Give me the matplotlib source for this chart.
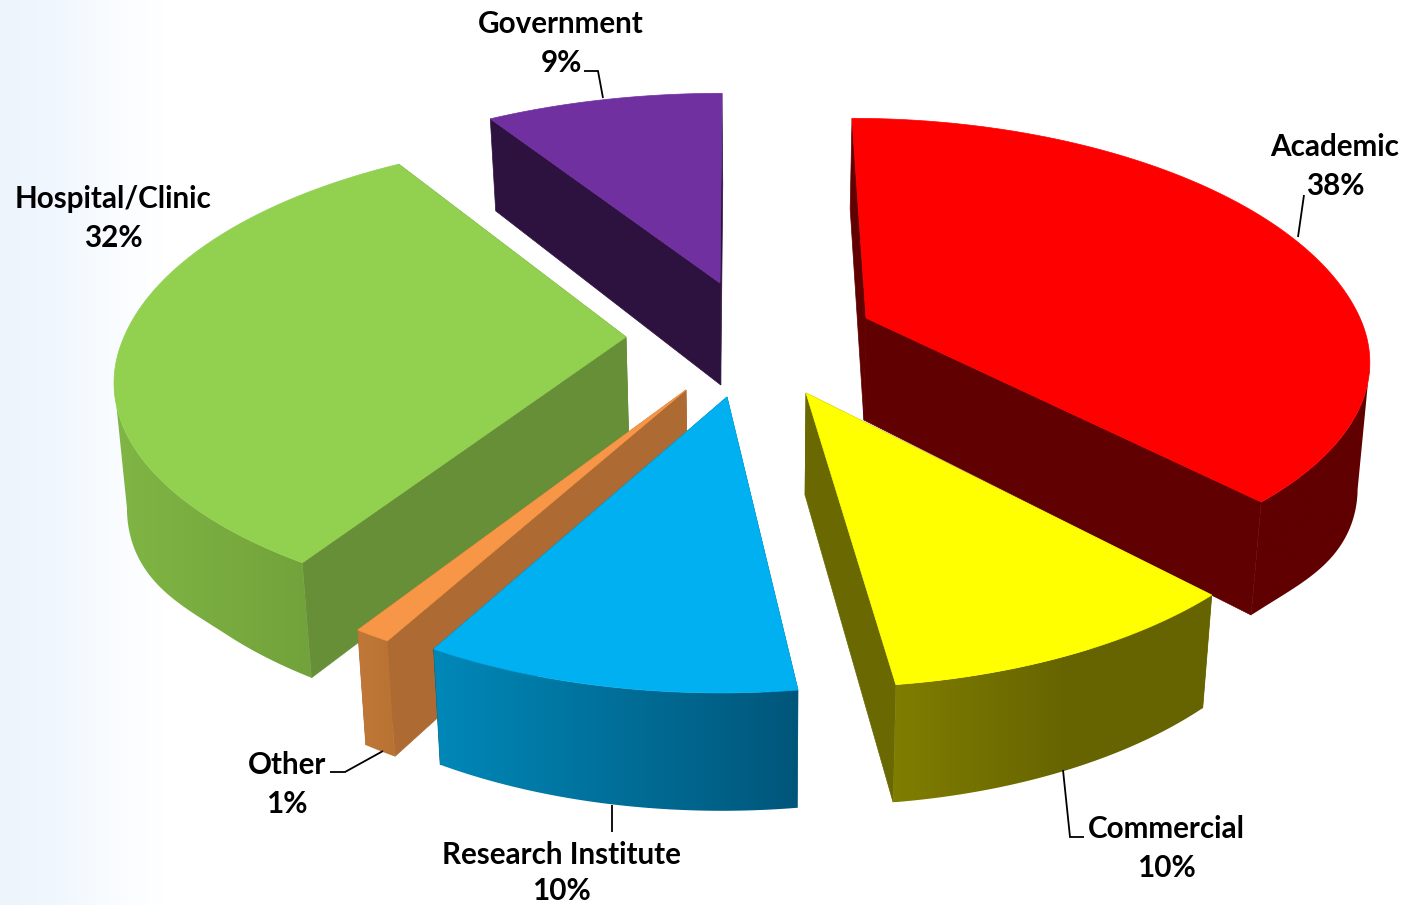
import numpy as np
import matplotlib
matplotlib.use("Agg")
import matplotlib.pyplot as plt
from matplotlib.colors import LinearSegmentedColormap
from matplotlib.patches import Polygon

# Survey shares, clockwise from twelve o'clock
sectors = ["Academic", "Commercial", "Research Institute", "Other", "Hospital/Clinic", "Government"]
shares = [38, 10, 10, 1, 32, 9]

# Appearance of each slice
top_colors = ["#ff0000", "#ffff00", "#00b0f0", "#f79646", "#92d050", "#7030a0"]
radial_colors = ["#600000", "#6a6800", "#005a7c", "#ad6a32", "#678f38", "#2d123f"]
rim_left = ["#600000", "#807e00", "#0088b8", "#c07838", "#80b645", "#2d123f"]
rim_right = ["#600000", "#666400", "#00567a", "#b87232", "#72a23b", "#2d123f"]
rim_fade = [1.0, 0.55, 1.0, 1.0, 1.0, 1.0]

# Slice tips in figure pixels: each slice is pulled out from the centre
tips = [(866, 318), (806, 393), (727, 397), (686, 390), (626, 337), (720, 283)]
paint_order = [5, 0, 4, 3, 2, 1]

# Per-slice lens corrections
radius_x = [494, 500, 500, 500, 502, 500]
near_scale = [0.92, 1.01, 1.015, 1.01, 0.95, 1.0]
far_scale = [1.0, 1.0, 1.0, 1.0, 1.0, 0.95]
near_drift = [5, 13, -6, -12, -5, 0]
far_drift = [-14, 0, 0, 0, 6, 2]

# Camera model
RADIUS_Y = 237
PERSPECTIVE = 0.187
THICKNESS = 102
SIDE_GROWTH = 0.2
BASE_SHRINK = 0.02
BASE_PIVOT = 760
ARC_STEPS = 180

# Label placement: name and percentage line centres
label_xy = {
    "Academic": (1335, 147),
    "Commercial": (1166, 829),
    "Research Institute": (561, 855),
    "Other": (287, 765),
    "Hospital/Clinic": (113, 199),
    "Government": (561, 24),
}
LINE_GAP = 39
leaders = [
    ([1304, 1298], [195, 237]),
    ([1063, 1070, 1084], [770, 837, 837]),
    ([612, 612], [805, 832]),
    ([330, 345, 383], [772, 772, 751]),
    ([584, 598, 603], [71, 71, 98]),
]


def project(dx, dy, i):
    tip = tips[i]
    g = 1 / (1 - PERSPECTIVE * dy)
    stretch = np.where(dy > 0, near_scale[i], far_scale[i])
    drift = np.where(dy > 0, near_drift[i] * dy, -far_drift[i] * dy)
    return tip[0] + radius_x[i] * dx * g + drift, tip[1] + RADIUS_Y * dy * g * stretch


def drop(sx, sy, dx, dy):
    # The base sits lower and slightly narrower than the top face
    g = 1 / (1 - PERSPECTIVE * dy)
    ramp = np.clip((np.abs(dx) - 0.7) / 0.3, 0, 1)
    side = ramp * ramp * (3 - 2 * ramp) * np.clip((dy + 0.4) / 0.4, 0, 1)
    return sx + (BASE_PIVOT - sx) * BASE_SHRINK, sy + THICKNESS * g ** 0.7 * (1 + SIDE_GROWTH * side)


def rim_outline(theta, sx, sy, bx, by):
    # Visible band of the rim: stops at the silhouette where the arc turns away
    if theta[0] < np.pi / 2 < theta[-1]:
        t, b = np.argmax(sx), np.argmax(bx)
        return np.r_[sx[t:], bx[b:][::-1]], np.r_[sy[t:], by[b:][::-1]]
    if theta[0] < 3 * np.pi / 2 < theta[-1]:
        t, b = np.argmin(sx), np.argmin(bx)
        return np.r_[sx[:t + 1], bx[:b + 1][::-1]], np.r_[sy[:t + 1], by[:b + 1][::-1]]
    return np.r_[sx, bx[::-1]], np.r_[sy, by[::-1]]


plt.rcParams["font.family"] = ["Lato", "DejaVu Sans"]
fig = plt.figure(figsize=(14.2, 9.05), dpi=100)
ax = fig.add_axes([0, 0, 1, 1])
ax.axis("off")

# Pale blue wash fading out from the left edge
wash = LinearSegmentedColormap.from_list("wash", ["#ecf4fc", "#f1f7fe", "#f9fcff", "#ffffff"])
ax.imshow(np.linspace(0, 1, 512)[None, :], cmap=wash, extent=(0, 165, 905, 0),
          aspect="auto", zorder=0)

edges = np.concatenate([[0], np.cumsum(shares)]) / np.sum(shares) * 2 * np.pi

for order, i in enumerate(paint_order):
    base_z = 2 + 3 * order
    tip = tips[i]
    theta = np.linspace(edges[i], edges[i + 1], ARC_STEPS)
    dx, dy = np.sin(theta), -np.cos(theta)
    sx, sy = project(dx, dy, i)
    bx, by = drop(sx, sy, dx, dy)
    tbx, tby = drop(tip[0], tip[1], 0.0, 0.0)

    # Flat cut faces running from the tip to each end of the arc
    for k in (0, -1):
        ax.add_patch(Polygon([(tip[0], tip[1]), (sx[k], sy[k]), (bx[k], by[k]), (tbx, tby)],
                             closed=True, facecolor=radial_colors[i], edgecolor=radial_colors[i],
                             linewidth=0.5, zorder=base_z))

    # Curved rim on the viewer's side, shaded left to right
    if dy.max() > 0:
        rx, ry = rim_outline(theta, sx, sy, bx, by)
        ramp = LinearSegmentedColormap.from_list(
            "rim", [(0, rim_left[i]), (rim_fade[i], rim_right[i]), (1, rim_right[i])])
        img = ax.imshow(np.linspace(0, 1, 256)[None, :], cmap=ramp,
                        extent=(rx.min(), rx.max(), ry.max(), ry.min()),
                        aspect="auto", zorder=base_z + 1, interpolation="bilinear")
        rim = Polygon(np.column_stack([rx, ry]), closed=True, transform=ax.transData,
                      facecolor="none", edgecolor="none")
        ax.add_patch(rim)
        img.set_clip_path(rim)

    outline = np.column_stack([np.r_[tip[0], sx], np.r_[tip[1], sy]])
    ax.add_patch(Polygon(outline, closed=True, facecolor=top_colors[i],
                         edgecolor=top_colors[i], linewidth=0.5, zorder=base_z + 2))

ax.set_xlim(0, 1420)
ax.set_ylim(905, 0)

for xs, ys in leaders:
    ax.plot(xs, ys, color="black", lw=1.3, zorder=30, solid_capstyle="butt", solid_joinstyle="miter")

for name, share in zip(sectors, shares):
    x, y = label_xy[name]
    ax.text(x, y, name, ha="center", va="center", fontsize=21.3, fontweight="bold", color="black", zorder=31)
    ax.text(x, y + LINE_GAP - (3 if name == "Research Institute" else 0), f"{share}%", ha="center", va="center",
            fontsize=21.3, fontweight="bold", color="black", zorder=31)

fig.savefig("out.png", dpi=100)
